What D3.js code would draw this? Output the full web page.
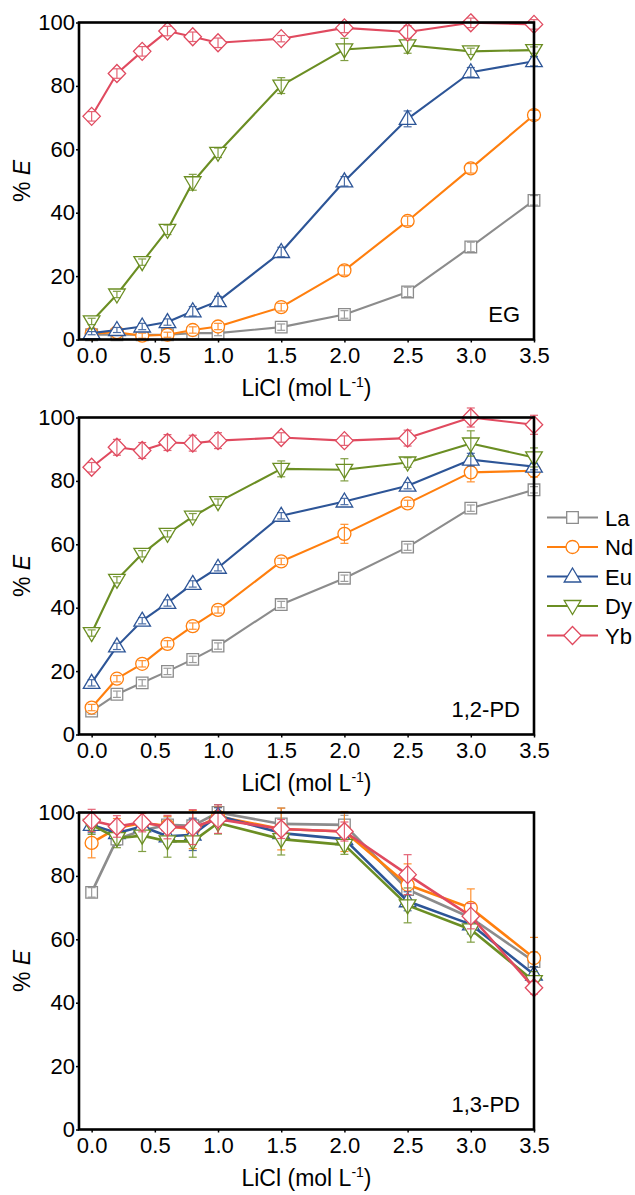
<!DOCTYPE html>
<html>
<head>
<meta charset="utf-8">
<script src="https://cdn.jsdelivr.net/npm/d3@7"></script>
<style>
  body { margin: 0; background: #fff; }
  svg { display: block; font-family: "Liberation Sans", Arial, sans-serif; }
</style>
</head>
<body>
<div id="chart"></div>
<script>
// LiCl concentration (mol/L)
const licl = [0, 0.2, 0.4, 0.6, 0.8, 1.0, 1.5, 2.0, 2.5, 3.0, 3.5];
const elements = ["La", "Nd", "Eu", "Dy", "Yb"];
const xTicks = [0, 0.5, 1.0, 1.5, 2.0, 2.5, 3.0, 3.5];
const yTicks = [0, 20, 40, 60, 80, 100];
const panelNames = ["EG", "1,2-PD", "1,3-PD"];

// EG
const egLa = [1.5, 1.5, 1.5, 1.5, 2, 2, 3.9, 7.9, 15, 29.2, 43.9];
const egNd = [1.8, 2.3, 1.2, 1.5, 3.0, 4.1, 10.2, 21.8, 37.4, 54, 70.8];
const egEu = [2.0, 3.0, 4.1, 5.5, 8.9, 12.1, 27.6, 49.9, 69.6, 84.3, 87.8];
const egDy = [5.7, 14.2, 24.4, 34.6, 49.6, 58.9, 80.1, 91.5, 92.8, 90.9, 91.3];
const egYb = [70.4, 83.9, 90.9, 97.3, 95.5, 93.6, 94.9, 98.3, 97, 99.9, 99.4];
const egLaErr = [0.5, 0.5, 0.5, 0.5, 0.8, 0.8, 1, 1.2, 1.5, 1.5, 1.5];
const egNdErr = [0.8, 0.8, 0.8, 0.8, 1, 1, 1.2, 1.5, 1.5, 1.5, 1.5];
const egEuErr = [0.5, 0.8, 1, 1, 1.5, 1.5, 1.5, 1.5, 2.5, 1.5, 1.5];
const egDyErr = [1, 1, 1, 1.5, 2.5, 1.5, 2.5, 3.5, 2.5, 1, 1];
const egYbErr = [1.5, 1.5, 1.5, 1.5, 1.5, 1.5, 1, 1.5, 2, 1.5, 1.5];

// 1,2-PD
const pd12La = [7.4, 12.7, 16.3, 19.9, 23.7, 27.9, 41, 49.3, 59.1, 71.4, 77.2];
const pd12Nd = [8.5, 17.6, 22.3, 28.6, 34.2, 39.3, 54.6, 63.3, 72.9, 82.7, 83.2];
const pd12Eu = [16.3, 27.8, 35.9, 41.5, 47.5, 52.6, 69, 73.5, 78.5, 86.7, 84.5];
const pd12Dy = [32, 48.8, 57, 63.3, 68.7, 73.3, 83.8, 83.5, 85.8, 91.8, 87.4];
const pd12Yb = [84.3, 90.6, 89.6, 92.1, 91.9, 92.7, 93.7, 92.7, 93.5, 100, 97.7];
const pd12LaErr = [1, 1, 1, 1, 1, 1, 1, 1, 1, 1, 1];
const pd12NdErr = [1, 1, 1, 1, 1, 1, 1, 3, 1, 3, 2];
const pd12EuErr = [1, 1, 1, 1, 1, 1, 1, 1, 1, 2, 1];
const pd12DyErr = [1, 1, 1, 1, 1, 1, 2.5, 3.5, 1.5, 4, 3];
const pd12YbErr = [1.5, 2.5, 2.5, 2.5, 2.5, 2.5, 1.5, 1.5, 2.5, 3, 3];

// 1,3-PD
const pd13La = [74.8, 91.6, 94.3, 96.1, 95.8, 100, 96.4, 96.1, 75.7, 66.8, 53];
const pd13Nd = [90.4, 95.1, 96.7, 95.8, 94.6, 98.7, 94.8, 94, 77.2, 69.9, 54.1];
const pd13Eu = [96.1, 93.5, 95.6, 92.5, 93, 99, 93.5, 91.6, 72, 64.7, 48.9];
const pd13Dy = [96.1, 91.9, 92.7, 90.9, 90.9, 96.7, 91.6, 89.8, 70.7, 63.1, 46.8];
const pd13Yb = [97.5, 95.6, 96.9, 95.4, 95.4, 97.9, 94.8, 94, 80.4, 67.3, 44.7];
const pd13LaErr = [1.5, 2, 2.5, 2.5, 2.5, 2.5, 5, 3, 4, 3, 3];
const pd13NdErr = [4.7, 3, 3, 3, 6, 3, 6.6, 6.3, 6.6, 6, 6.5];
const pd13EuErr = [2.5, 2.5, 2.5, 2.5, 5, 2.5, 2.5, 2.5, 3, 3, 2.5];
const pd13DyErr = [3, 3, 5, 5, 5, 3.5, 5, 3, 5.5, 4, 3];
const pd13YbErr = [3.5, 3.4, 3, 3.7, 5.5, 4.5, 3, 3, 6.3, 4, 2];

const colors = { La: "#8c8c8c", Nd: "#ff7f0e", Eu: "#2d5597", Dy: "#6b8e23", Yb: "#e04a5f" };

const panels = [
  { name: panelNames[0], values: [egLa, egNd, egEu, egDy, egYb], errors: [egLaErr, egNdErr, egEuErr, egDyErr, egYbErr] },
  { name: panelNames[1], values: [pd12La, pd12Nd, pd12Eu, pd12Dy, pd12Yb], errors: [pd12LaErr, pd12NdErr, pd12EuErr, pd12DyErr, pd12YbErr] },
  { name: panelNames[2], values: [pd13La, pd13Nd, pd13Eu, pd13Dy, pd13Yb], errors: [pd13LaErr, pd13NdErr, pd13EuErr, pd13DyErr, pd13YbErr] }
];

// marker shapes
function markerPath(el) {
  switch (el) {
    case "La": return "M-5.8,-5.8H5.8V5.8H-5.8Z";
    case "Nd": return "M6.5,0A6.5,6.5 0 1,1 -6.5,0A6.5,6.5 0 1,1 6.5,0Z";
    case "Eu": return "M0,-8.5L8.3,5.5H-8.3Z";
    case "Dy": return "M0,8.5L8.3,-5.5H-8.3Z";
    case "Yb": return "M0,-9L8.7,0L0,9L-8.7,0Z";
  }
}

const W = 635, H = 1195;
const svg = d3.select("#chart").append("svg").attr("width", W).attr("height", H);

const left = 79, right = 534, plotH = 317, gap = 395, top0 = 22.5;

const x = d3.scaleLinear().domain([-0.1, 3.5]).range([left, right]);

panels.forEach((p, i) => {
  const top = top0 + i * gap, bottom = top + plotH;
  const y = d3.scaleLinear().domain([0, 100]).range([bottom, top]);
  const g = svg.append("g");
  const lw = i === 2 ? 2.6 : 2.1;

  // data
  elements.forEach((el, k) => {
    const pts = licl.map((v, j) => ({ x: v, y: p.values[k][j], e: p.errors[k][j] }));
    const line = d3.line().x(d => x(d.x)).y(d => y(d.y));
    g.append("path")
      .datum(pts)
      .attr("fill", "none")
      .attr("stroke", colors[el])
      .attr("stroke-width", lw)
      .attr("stroke-linejoin", "round")
      .attr("d", line);

    g.selectAll(".m" + el)
      .data(pts)
      .enter().append("path")
      .attr("transform", d => `translate(${x(d.x)},${y(d.y)})`)
      .attr("d", markerPath(el))
      .attr("fill", "#fff")
      .attr("stroke", colors[el])
      .attr("stroke-width", 1.3);

    const eb = g.selectAll(".e" + el)
      .data(pts)
      .enter().append("g")
      .attr("stroke", colors[el])
      .attr("stroke-width", 1.2)
      .attr("opacity", 0.85);
    eb.append("line")
      .attr("x1", d => x(d.x)).attr("x2", d => x(d.x))
      .attr("y1", d => y(d.y - d.e)).attr("y2", d => y(d.y + d.e));
    eb.append("line")
      .attr("x1", d => x(d.x) - 4).attr("x2", d => x(d.x) + 4)
      .attr("y1", d => y(d.y + d.e)).attr("y2", d => y(d.y + d.e));
    eb.append("line")
      .attr("x1", d => x(d.x) - 4).attr("x2", d => x(d.x) + 4)
      .attr("y1", d => y(d.y - d.e)).attr("y2", d => y(d.y - d.e));
  });

  // frame
  g.append("rect")
    .attr("x", left).attr("y", top)
    .attr("width", right - left).attr("height", plotH)
    .attr("fill", "none")
    .attr("stroke", "#000")
    .attr("stroke-width", 2.6);

  // axes
  const ax = g.append("g")
    .attr("transform", `translate(0,${bottom})`)
    .call(d3.axisBottom(x).tickValues(xTicks).tickFormat(d3.format(".1f")).tickSize(3).tickPadding(5));
  const ay = g.append("g")
    .attr("transform", `translate(${left},0)`)
    .call(d3.axisLeft(y).tickValues(yTicks).tickSize(3).tickPadding(1));
  [ax, ay].forEach(a => {
    a.select(".domain").remove();
    a.selectAll("line").attr("stroke", "#000").attr("stroke-width", 1.5);
    a.selectAll("text").attr("fill", "#000").style("font-size", "22px")
      .style("font-family", "'Liberation Sans', Arial, sans-serif");
  });

  // panel label
  g.append("text")
    .attr("x", 520).attr("y", bottom - 18)
    .attr("text-anchor", "end")
    .style("font-size", "22px")
    .text(p.name);

  // x title
  const xt = g.append("text")
    .attr("x", (left + right) / 2).attr("y", bottom + 56)
    .attr("text-anchor", "middle")
    .style("font-size", "23px");
  xt.append("tspan").text("LiCl (mol L");
  xt.append("tspan").attr("dy", -9).style("font-size", "14px").text("-1");
  xt.append("tspan").attr("dy", 9).text(")");

  // y title
  const yt = g.append("text")
    .attr("transform", `translate(30,${(top + bottom) / 2}) rotate(-90)`)
    .attr("text-anchor", "middle")
    .style("font-size", "23px");
  yt.append("tspan").text("% ");
  yt.append("tspan").style("font-style", "italic").text("E");
});

// legend
const lg = svg.append("g").attr("transform", "translate(547,517.5)");
elements.forEach((el, k) => {
  const r = lg.append("g").attr("transform", `translate(0,${k * 29.5})`);
  r.append("line").attr("x1", 0).attr("x2", 51).attr("y1", 0).attr("y2", 0)
    .attr("stroke", colors[el]).attr("stroke-width", 2.1);
  r.append("path").attr("transform", "translate(25.5,0)").attr("d", markerPath(el))
    .attr("fill", "#fff").attr("stroke", colors[el]).attr("stroke-width", 1.3);
  r.append("text").attr("x", 58).attr("y", 8).style("font-size", "22px").text(el);
});
</script>
</body>
</html>
